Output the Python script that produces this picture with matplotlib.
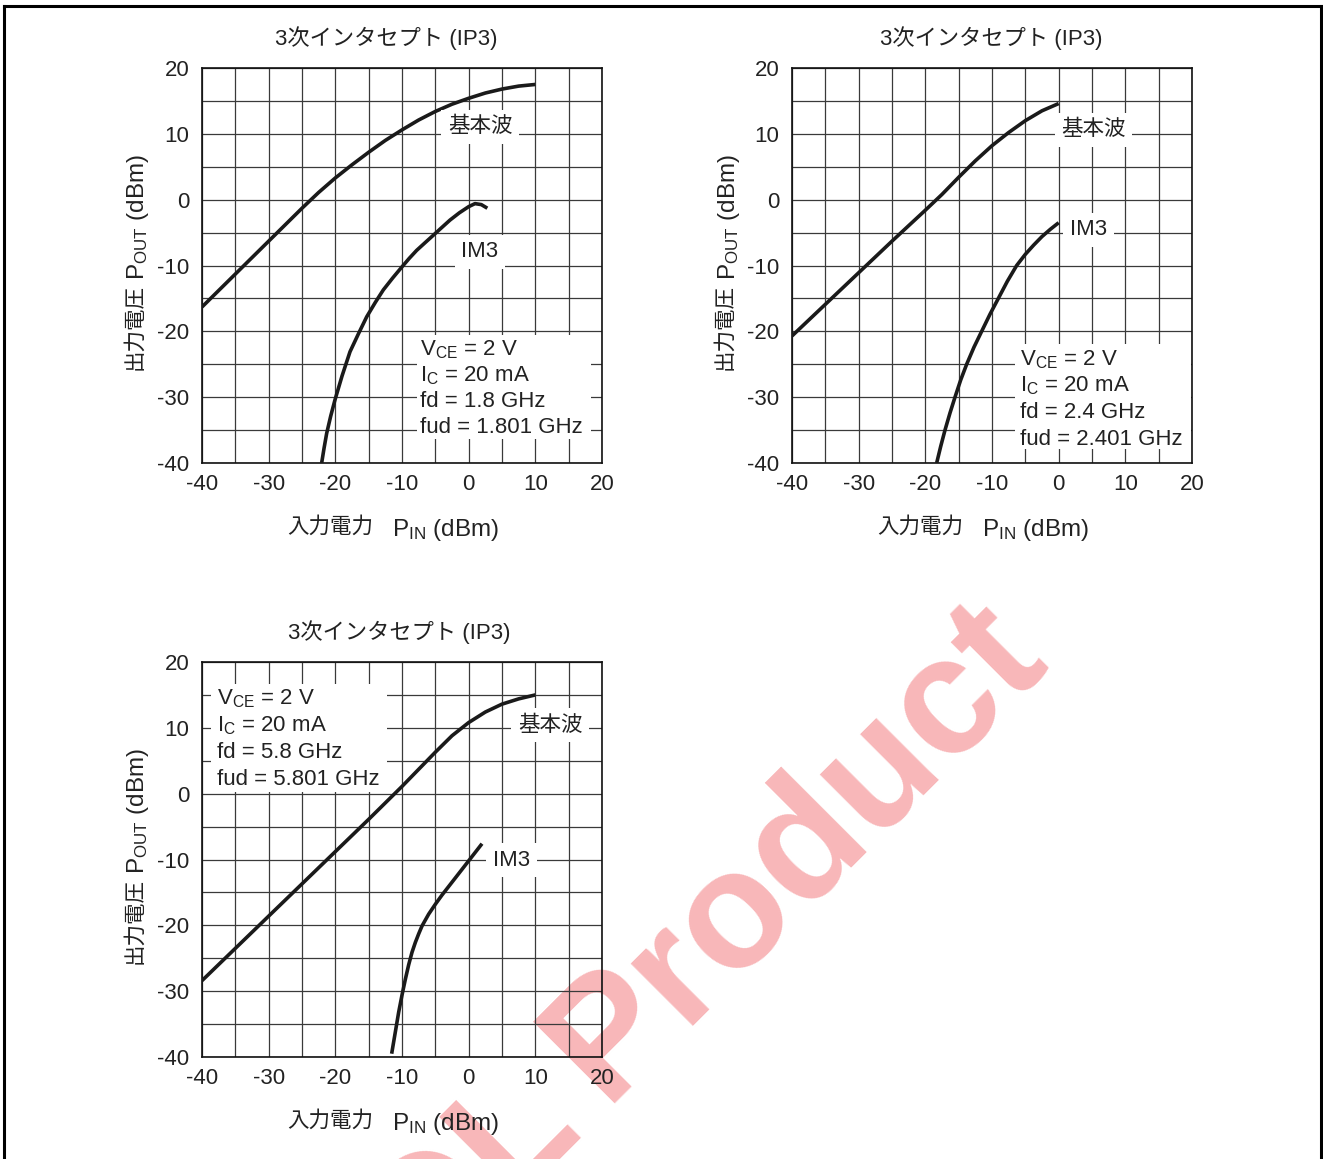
import matplotlib
matplotlib.use("Agg")
import matplotlib.pyplot as plt
from matplotlib.lines import Line2D
from matplotlib.patches import Rectangle

plt.rcParams['font.family'] = ['Liberation Sans', 'Noto Sans CJK JP', 'DejaVu Sans']
plt.rcParams['mathtext.fontset'] = 'custom'
plt.rcParams['mathtext.rm'] = 'Liberation Sans'
plt.rcParams['mathtext.it'] = 'Liberation Sans'
plt.rcParams['mathtext.bf'] = 'Liberation Sans:bold'
plt.rcParams['axes.unicode_minus'] = False

# ---------------- data ----------------
title = "3次インタセプト (IP3)"
xlabel_jp = "入力電力"
xlabel_en = "P$_{\\mathrm{IN}}$ (dBm)"
ylabel_jp = "出力電圧"
ylabel_en = "P$_{\\mathrm{OUT}}$ (dBm)"
tick_vals = [-40, -30, -20, -10, 0, 10, 20]
x_tick_labels = ["-40", "-30", "-20", "-10", "0", "10", "20"]
y_tick_vals = [-40, -30, -20, -10, 0, 10, 20]
y_tick_labels = ["-40", "-30", "-20", "-10", "0", "10", "20"]

# 1.8 GHz
fund1_x = [-40, -37.5, -35, -32.5, -30, -27.5, -25, -22.5, -20, -17.5, -15, -12.5, -10, -7.5, -5, -2.5, 0, 2.5, 5, 7.5, 10]
fund1_y = [-16.3, -13.8, -11.3, -8.8, -6.3, -3.8, -1.3, 1.1, 3.3, 5.3, 7.2, 9.0, 10.6, 12.1, 13.4, 14.5, 15.4, 16.2, 16.8, 17.25, 17.5]
im31_x = [-22.05, -21.7, -21.3, -20.7, -20.05, -19.0, -17.8, -16.5, -15.3, -14.0, -12.8, -11.4, -10.0, -8.9, -7.8, -6.5, -5.3, -4.0, -2.8, -1.4, 0, 0.95, 1.9, 2.8]
im31_y = [-40, -37.8, -35.5, -32.9, -30.4, -26.8, -23.1, -20.3, -17.8, -15.6, -13.7, -11.9, -10.2, -8.9, -7.7, -6.5, -5.4, -4.2, -3.1, -2.0, -1.06, -0.6, -0.75, -1.3]

# 2.4 GHz
fund2_x = [-40, -35, -30, -25, -20, -17.5, -15, -12.5, -10, -7.5, -5, -2.5, 0]
fund2_y = [-20.7, -15.9, -11.1, -6.3, -1.6, 0.8, 3.4, 5.9, 8.2, 10.2, 12.0, 13.5, 14.6]
im32_x = [-18.3, -17.7, -17.05, -16.3, -15.55, -14.7, -13.8, -12.7, -11.55, -10.3, -9.05, -7.7, -6.3, -5.0, -3.75, -2.5, -1.25, 0]
im32_y = [-40, -37.5, -35, -32.4, -30, -27.4, -25, -22.4, -20, -17.4, -15, -12.4, -10, -8.3, -6.9, -5.6, -4.5, -3.5]

# 5.8 GHz
fund3_x = [-40, -35, -30, -25, -20, -15, -12.5, -10, -7.5, -5, -2.5, 0, 2.5, 5, 7.5, 10]
fund3_y = [-28.4, -23.5, -18.6, -13.7, -8.8, -3.9, -1.4, 1.1, 3.7, 6.3, 8.8, 10.8, 12.4, 13.6, 14.4, 15.0]
im33_x = [-11.55, -11.0, -10.5, -10.0, -9.5, -9.0, -8.5, -8.0, -7.5, -7.0, -6.0, -5.0, -4.0, -3.0, -2.0, -1.0, 0, 1, 2]
im33_y = [-39.5, -36.2, -33.2, -30.6, -28.2, -26.0, -24.1, -22.6, -21.3, -20.1, -18.3, -16.8, -15.4, -14.1, -12.8, -11.5, -10.2, -8.9, -7.6]

fund_label = "基本波"
im3_label = "IM3"
params1 = ["V$_{\\mathrm{CE}}$ = 2 V", "I$_{\\mathrm{C}}$ = 20 mA", "fd = 1.8 GHz", "fud = 1.801 GHz"]
params2 = ["V$_{\\mathrm{CE}}$ = 2 V", "I$_{\\mathrm{C}}$ = 20 mA", "fd = 2.4 GHz", "fud = 2.401 GHz"]
params3 = ["V$_{\\mathrm{CE}}$ = 2 V", "I$_{\\mathrm{C}}$ = 20 mA", "fd = 5.8 GHz", "fud = 5.801 GHz"]

W, H = 1323, 1159
fig = plt.figure(figsize=(W / 100, H / 100), dpi=100)

FS = 16
FS_JP = 15.5
FS_LBL = 17.5
TC = '#222222'


def make_axes(left_px, top_px, right_px, bottom_px, title_x):
    ax = fig.add_axes([left_px / W, 1 - bottom_px / H, (right_px - left_px) / W, (bottom_px - top_px) / H])
    ax.set_facecolor('none')
    ax.set_xlim(-40, 20)
    ax.set_ylim(-40, 20)
    ax.set_xticks(tick_vals)
    ax.set_xticklabels(x_tick_labels)
    ax.set_yticks(y_tick_vals)
    ax.set_yticklabels(y_tick_labels)
    ax.set_xticks(range(-35, 20, 10), minor=True)
    ax.set_yticks(range(-35, 20, 10), minor=True)
    ax.tick_params(which='both', length=0, labelsize=FS, colors=TC)
    ax.tick_params(axis='x', pad=8)
    ax.tick_params(axis='y', pad=9)
    ax.set_axisbelow(True)
    ax.grid(True, which='both', color='#3a3a3a', lw=0.9)
    for s in ax.spines.values():
        s.set_color('#111111')
        s.set_linewidth(1.2)
    ax.text(title_x, 1.076, title, transform=ax.transAxes, fontsize=FS, ha='center',
            va='center', color=TC)
    # x label
    ax.text(0.4275, -0.162, xlabel_jp, transform=ax.transAxes, fontsize=FS_JP, ha='right',
            va='center', color=TC)
    ax.text(0.475, -0.162, xlabel_en, transform=ax.transAxes, fontsize=FS_LBL, ha='left',
            va='center_baseline', color=TC)
    # y label
    ax.text(-0.1675, 0.2354, ylabel_jp, transform=ax.transAxes, fontsize=FS_JP, ha='left',
            va='center', rotation=90, rotation_mode='anchor', color=TC)
    ax.text(-0.1675, 0.4633, ylabel_en, transform=ax.transAxes, fontsize=FS_LBL, ha='left',
            va='center_baseline', rotation=90, rotation_mode='anchor', color=TC)
    return ax


def label(ax, x, y, s, fs):
    ax.text(x, y, s, fontsize=fs, ha='center', va='center', color=TC, zorder=4,
            bbox=dict(boxstyle='square,pad=0.3', fc='white', ec='none'))


def params(ax, x, ys, lines, box):
    ax.add_patch(Rectangle((box[0], box[1]), box[2] - box[0], box[3] - box[1],
                           fc='white', ec='none', zorder=1.5))
    for yy, s in zip(ys, lines):
        ax.text(x, yy, s, fontsize=FS, ha='left', va='baseline', color=TC, zorder=4)


LW = 2.6
LC = '#1a1a1a'
ax1 = make_axes(202, 68, 602, 463, 0.461)
ax1.plot(fund1_x, fund1_y, color=LC, lw=LW, zorder=3, solid_capstyle='butt', solid_joinstyle='round')
ax1.plot(im31_x, im31_y, color=LC, lw=LW, zorder=3, solid_capstyle='butt', solid_joinstyle='round')
label(ax1, 1.7, 11.1, fund_label, FS_JP)
label(ax1, 1.7, -7.9, im3_label, FS)
params(ax1, -7.3, [-23.6, -27.6, -31.5, -35.5], params1, (-7.8, -36.3, 18.3, -20.6))

ax2 = make_axes(792, 68, 1192, 463, 0.499)
ax2.plot(fund2_x, fund2_y, color=LC, lw=LW, zorder=3, solid_capstyle='butt', solid_joinstyle='round')
ax2.plot(im32_x, im32_y, color=LC, lw=LW, zorder=3, solid_capstyle='butt', solid_joinstyle='round')
label(ax2, 5.2, 10.6, fund_label, FS_JP)
label(ax2, 4.45, -4.6, im3_label, FS)
params(ax2, -5.8, [-25.1, -29.1, -33.1, -37.2], params2, (-6.6, -37.8, 19.8, -21.9))

ax3 = make_axes(202, 662, 602, 1057, 0.494)
ax3.plot(fund3_x, fund3_y, color=LC, lw=LW, zorder=3, solid_capstyle='butt', solid_joinstyle='round')
ax3.plot(im33_x, im33_y, color=LC, lw=LW, zorder=3, solid_capstyle='butt', solid_joinstyle='round')
label(ax3, 12.2, 10.4, fund_label, FS_JP)
label(ax3, 6.45, -10.1, im3_label, FS)
params(ax3, -37.8, [13.5, 9.4, 5.4, 1.3], params3, (-38.6, 0.3, -12.3, 16.6))

# watermark
wm_kw = dict(fontsize=120, fontweight='bold', color='#f8b7b9', rotation=45,
             rotation_mode='anchor', va='baseline', zorder=-1)
fig.text(604 / W, 1 - 1104 / H, "Product", ha='left', **wm_kw)
fig.text(583 / W, 1 - 1125 / H, "EOL", ha='right', **wm_kw)

# outer border
bc = '#000000'
fig.add_artist(Line2D([4 / W, 4 / W], [0, 1 - 6 / H], color=bc, lw=2.2, transform=fig.transFigure))
fig.add_artist(Line2D([4 / W, 1321 / W], [1 - 6 / H, 1 - 6 / H], color=bc, lw=2.2, transform=fig.transFigure))
fig.add_artist(Line2D([1321 / W, 1321 / W], [0, 1 - 6 / H], color=bc, lw=2.2, transform=fig.transFigure))

fig.savefig("out.png", dpi=100)
